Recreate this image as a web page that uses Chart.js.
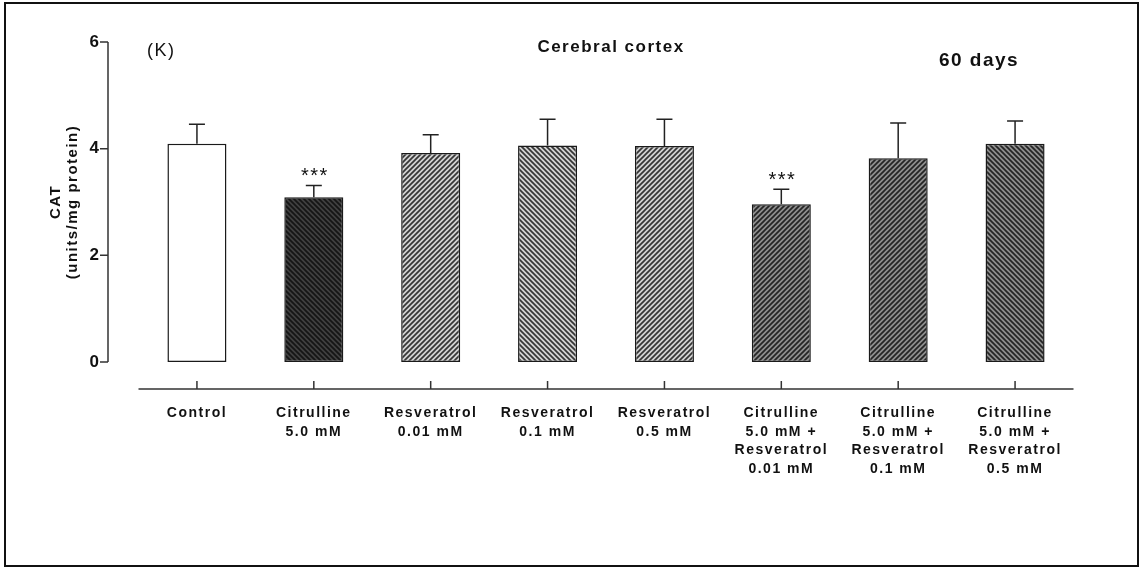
<!DOCTYPE html>
<html>
<head>
<meta charset="utf-8">
<script src="https://cdn.jsdelivr.net/npm/chart.js@4.4.0/dist/chart.umd.min.js"></script>
<style>
  html, body { margin: 0; padding: 0; background: #fff; }
  #wrap { position: relative; width: 1141px; height: 569px; overflow: hidden; }
  #frame { position: absolute; left: 4px; top: 2px; right: 2px; bottom: 2px; border: 2px solid #111; pointer-events: none; }
  canvas { position: absolute; left: 0; top: 0; }
</style>
</head>
<body>
<div id="wrap">
  <canvas id="catChart" width="1141" height="569"></canvas>
  <div id="frame"></div>
</div>
<script>
// groups (x axis)
const groups = [
  ["Control"],
  ["Citrulline", "5.0 mM"],
  ["Resveratrol", "0.01 mM"],
  ["Resveratrol", "0.1 mM"],
  ["Resveratrol", "0.5 mM"],
  ["Citrulline", "5.0 mM +", "Resveratrol", "0.01 mM"],
  ["Citrulline", "5.0 mM +", "Resveratrol", "0.1 mM"],
  ["Citrulline", "5.0 mM +", "Resveratrol", "0.5 mM"]
];
// CAT activity (units/mg protein), mean and SEM
const meanCAT = [4.09, 3.09, 3.92, 4.06, 4.05, 2.96, 3.82, 4.09];
const semCAT = [0.37, 0.22, 0.34, 0.49, 0.50, 0.28, 0.66, 0.43];
const signif = ["", "***", "", "", "", "***", "", ""];
const yTicks = [0, 2, 4, 6];

const FONT = "'Liberation Sans', Arial, sans-serif";
Chart.defaults.font.family = FONT;
Chart.defaults.color = "#111";

// diagonal hatch fills
function hatch(bg, fg, dir) {
  const s = 5;
  const c = document.createElement("canvas");
  c.width = s; c.height = s;
  const g = c.getContext("2d");
  g.fillStyle = bg;
  g.fillRect(0, 0, s, s);
  g.strokeStyle = fg;
  g.lineWidth = 1.7;
  g.beginPath();
  if (dir === "/") {
    g.moveTo(0, s); g.lineTo(s, 0);
    g.moveTo(-1, 1); g.lineTo(1, -1);
    g.moveTo(s - 1, s + 1); g.lineTo(s + 1, s - 1);
  } else {
    g.moveTo(0, 0); g.lineTo(s, s);
    g.moveTo(-1, s - 1); g.lineTo(1, s + 1);
    g.moveTo(s - 1, -1); g.lineTo(s + 1, 1);
  }
  g.stroke();
  return g.createPattern(c, "repeat");
}

const fills = [
  "#ffffff",
  hatch("#404040", "#151515", "\\"),
  hatch("#d2d2d2", "#353535", "/"),
  hatch("#d2d2d2", "#353535", "\\"),
  hatch("#d2d2d2", "#353535", "/"),
  hatch("#8e8e8e", "#242424", "/"),
  hatch("#8e8e8e", "#242424", "/"),
  hatch("#8e8e8e", "#242424", "\\")
];

const spacing = {
  id: "spacing",
  beforeLayout(chart) { chart.ctx.letterSpacing = "1.5px"; },
  beforeDraw(chart) { chart.ctx.letterSpacing = "1.5px"; }
};

const extras = {
  id: "extras",
  afterDatasetsDraw(chart) {
    const ctx = chart.ctx;
    const x = chart.scales.x;
    const y = chart.scales.y;
    const area = chart.chartArea;
    ctx.save();
    ctx.letterSpacing = "1.5px";

    // error bars + significance
    ctx.strokeStyle = "#222";
    ctx.lineWidth = 1.5;
    meanCAT.forEach((m, i) => {
      const cx = x.getPixelForValue(i);
      const top = y.getPixelForValue(m + semCAT[i]);
      const base = y.getPixelForValue(m);
      ctx.beginPath();
      ctx.moveTo(cx, base);
      ctx.lineTo(cx, top);
      ctx.moveTo(cx - 8, top);
      ctx.lineTo(cx + 8, top);
      ctx.stroke();
      if (signif[i]) {
        ctx.fillStyle = "#111";
        ctx.font = "20px " + FONT;
        ctx.textAlign = "center";
        ctx.textBaseline = "middle";
        ctx.fillText(signif[i], cx + 1, top - 9);
      }
    });

    // y axis (offset to the left)
    const ax = area.left - 30.5;
    ctx.strokeStyle = "#333";
    ctx.lineWidth = 1.5;
    ctx.beginPath();
    ctx.moveTo(ax, y.getPixelForValue(6));
    ctx.lineTo(ax, y.getPixelForValue(0));
    yTicks.forEach(v => {
      const py = y.getPixelForValue(v);
      ctx.moveTo(ax - 8, py);
      ctx.lineTo(ax, py);
    });
    // x axis (offset below)
    const ay = area.bottom + 27;
    ctx.moveTo(area.left, ay);
    ctx.lineTo(area.right, ay);
    groups.forEach((g, i) => {
      const px = x.getPixelForValue(i);
      ctx.moveTo(px, ay - 8);
      ctx.lineTo(px, ay);
    });
    ctx.stroke();

    // headings
    ctx.fillStyle = "#111";
    ctx.textBaseline = "middle";
    ctx.textAlign = "left";
    ctx.font = "18px " + FONT;
    ctx.fillText("(K)", 147, 51);
    ctx.textAlign = "center";
    ctx.font = "bold 17px " + FONT;
    ctx.fillText("Cerebral cortex", 611, 47);
    ctx.font = "bold 19px " + FONT;
    ctx.fillText("60 days", 979, 61);
    ctx.restore();
  }
};

new Chart(document.getElementById("catChart"), {
  type: "bar",
  data: {
    labels: groups,
    datasets: [{
      data: meanCAT,
      backgroundColor: fills,
      borderColor: "#1a1a1a",
      borderWidth: 1.5,
      borderSkipped: false,
      categoryPercentage: 1,
      barPercentage: 0.505
    }]
  },
  options: {
    responsive: false,
    animation: false,
    layout: { padding: { left: 44, right: 67.5, top: 42, bottom: 20 } },
    plugins: { legend: { display: false }, tooltip: { enabled: false } },
    scales: {
      x: {
        grid: { display: false, drawTicks: false },
        border: { display: false },
        ticks: {
          padding: 42,
          maxRotation: 0,
          autoSkip: false,
          color: "#111",
          font: { size: 14, weight: "bold", lineHeight: "18.5px" }
        },
        afterFit(scale) {
          scale.height = 207 - 20;
          scale.paddingLeft = 0;
          scale.paddingRight = 0;
        }
      },
      y: {
        min: 0,
        max: 6,
        afterBuildTicks(scale) { scale.ticks = yTicks.map(v => ({ value: v })); },
        grid: { display: false, drawTicks: false },
        border: { display: false },
        ticks: {
          padding: 38,
          color: "#111",
          font: { size: 17, weight: "bold" }
        },
        title: {
          display: true,
          text: ["CAT", "(units/mg protein)"],
          color: "#111",
          font: { size: 15, weight: "bold", lineHeight: 1.1 },
          padding: { top: 4, bottom: 6 }
        },
        afterFit(scale) {
          scale.width = 94.5;
          scale.paddingTop = 0;
          scale.paddingBottom = 0;
        }
      }
    }
  },
  plugins: [spacing, extras]
});
</script>
</body>
</html>
